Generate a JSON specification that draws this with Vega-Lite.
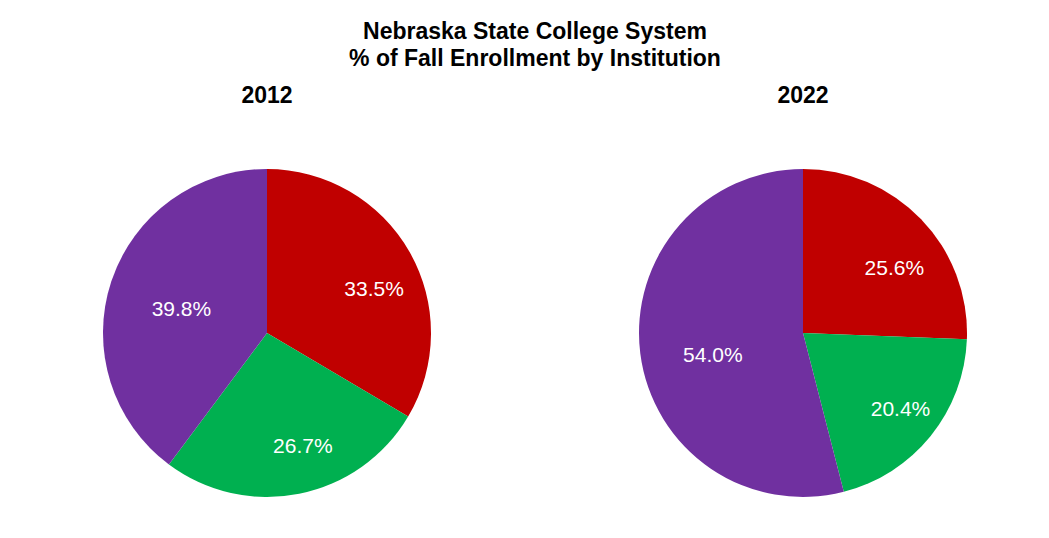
{
  "$schema": "https://vega.github.io/schema/vega-lite/v6.json",
  "background": "white",
  "padding": {"left": 102, "top": 21, "right": 0, "bottom": 0},
  "title": {
    "text": ["Nebraska State College System", "% of Fall Enrollment by Institution"],
    "fontSize": 23,
    "fontWeight": "bold",
    "lineHeight": 27,
    "anchor": "middle",
    "offset": 14,
    "color": "black"
  },
  "data": {
    "values": [
      {"year": "2012", "institution": "Chadron State", "share": 0.335},
      {"year": "2012", "institution": "Peru State", "share": 0.267},
      {"year": "2012", "institution": "Wayne State", "share": 0.398},
      {"year": "2022", "institution": "Chadron State", "share": 0.256},
      {"year": "2022", "institution": "Peru State", "share": 0.204},
      {"year": "2022", "institution": "Wayne State", "share": 0.540}
    ]
  },
  "spacing": 206,
  "hconcat": [
    {
      "width": 330,
      "height": 330,
      "title": {"text": "2012", "fontSize": 23, "offset": 60},
      "transform": [{"filter": "datum.year == '2012'"}],
      "encoding": {
        "theta": {"field": "share", "type": "quantitative", "stack": true},
        "order": {"field": "institution", "type": "ordinal", "sort": "ascending"},
        "color": {
          "field": "institution",
          "type": "nominal",
          "scale": {
            "domain": ["Chadron State", "Peru State", "Wayne State"],
            "range": ["#C00000", "#00B050", "#7030A0"]
          },
          "legend": null
        }
      },
      "layer": [
        {"mark": {"type": "arc", "outerRadius": 164}},
        {
          "mark": {"type": "text", "radius": 106, "fontSize": 21, "dx": 15, "dy": 10},
          "encoding": {
            "text": {"field": "share", "type": "quantitative", "format": ".1%"},
            "color": {"value": "white"}
          }
        }
      ]
    },
    {
      "width": 330,
      "height": 330,
      "title": {"text": "2022", "fontSize": 23, "offset": 60},
      "transform": [{"filter": "datum.year == '2022'"}],
      "encoding": {
        "theta": {"field": "share", "type": "quantitative", "stack": true},
        "order": {"field": "institution", "type": "ordinal", "sort": "ascending"},
        "color": {
          "field": "institution",
          "type": "nominal",
          "scale": {
            "domain": ["Chadron State", "Peru State", "Wayne State"],
            "range": ["#C00000", "#00B050", "#7030A0"]
          },
          "legend": null
        }
      },
      "layer": [
        {"mark": {"type": "arc", "outerRadius": 164}},
        {
          "mark": {"type": "text", "radius": 106, "fontSize": 21, "dx": 15, "dy": 10},
          "encoding": {
            "text": {"field": "share", "type": "quantitative", "format": ".1%"},
            "color": {"value": "white"}
          }
        }
      ]
    }
  ],
  "config": {
    "font": "Liberation Sans",
    "view": {"stroke": null},
    "title": {"color": "black"}
  }
}
